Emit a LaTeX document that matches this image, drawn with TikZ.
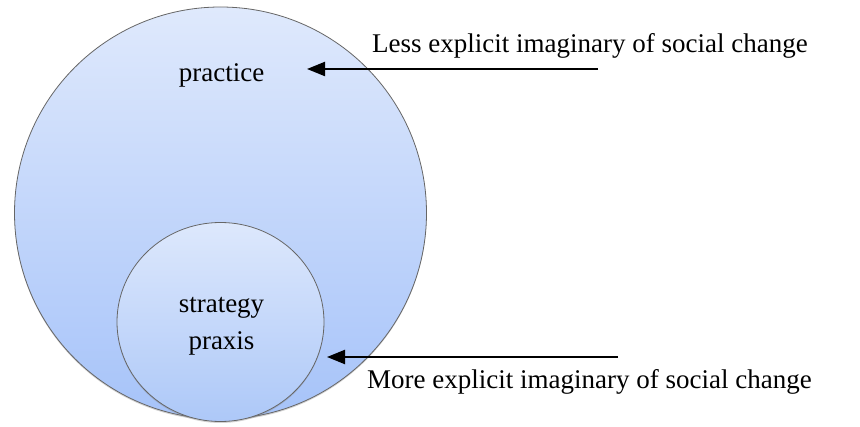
\documentclass[tikz,border=0pt]{standalone}
\usepackage{fontspec}
\setmainfont{Liberation Serif}
\newfontfamily\tnr{Liberation Serif}
\usetikzlibrary{arrows.meta,shapes.geometric,shadows}
\definecolor{outl}{HTML}{666666}
\definecolor{bigtop}{HTML}{DFE9FC}
\definecolor{bigbot}{HTML}{A6C3F9}
\definecolor{smltop}{HTML}{DDE8FC}
\definecolor{smlbot}{HTML}{ADC8F8}
\tikzset{
  venn/.style={draw=outl, line width=0.8pt, inner sep=0pt,
    drop shadow={opacity=0.35, shadow xshift=0pt, shadow yshift=-1.5pt}},
  bigc/.style={venn, circle, minimum size=412pt, top color=bigtop, bottom color=bigbot},
  smlc/.style={venn, ellipse, minimum width=207pt, minimum height=199pt, top color=smltop, bottom color=smlbot},
  txt/.style={inner sep=0pt, font=\tnr\fontsize{27}{32}\selectfont},
  arr/.style={line width=2.2pt, -{Triangle[length=18pt,width=14pt]}}
}
\begin{document}
\begin{tikzpicture}[x=1pt,y=1pt]
\fill[white] (0,0) rectangle (860,426);
\useasboundingbox (0,0) rectangle (860,426);
\node[bigc] (outer) at (220.5,213) {};
\node[smlc] (inner) at (220.5,104) {};
\node[txt, anchor=base] (practice) at (221.5,344) {practice};
\node[txt, anchor=base] (strategy) at (221.5,113) {strategy};
\node[txt, anchor=base] (praxis) at (221.5,76) {praxis};
\node[txt, anchor=base west] (less) at (372,373) {Less explicit imaginary of social change};
\node[txt, anchor=base west] (more) at (367,37) {More explicit imaginary of social change};
\coordinate (s1) at (598,357);
\coordinate (t1) at (307,357);
\coordinate (s2) at (618,69);
\coordinate (t2) at (327,69);
\draw[arr] (s1) -- (t1);
\draw[arr] (s2) -- (t2);
\end{tikzpicture}
\end{document}
